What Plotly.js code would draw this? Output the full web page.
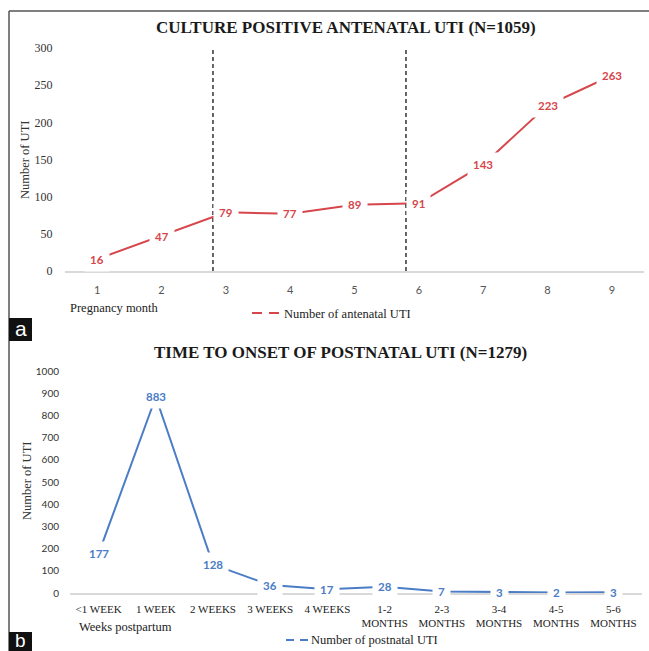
<!DOCTYPE html>
<html><head><meta charset="utf-8">
<script src="https://cdn.plot.ly/plotly-3.0.1.min.js"></script>
<style>html,body{margin:0;padding:0;background:#fff}#chart{width:649px;height:651px}</style>
</head><body><div id="chart"></div>
<script>
// ---- data ----
const antenatalMonths = [1, 2, 3, 4, 5, 6, 7, 8, 9];
const antenatalCounts = [16, 47, 79, 77, 89, 91, 143, 223, 263];
const trimesterBoundaries = [2.8, 5.8];
const postnatalPeriods = ['&lt;1 WEEK', '1 WEEK', '2 WEEKS', '3 WEEKS', '4 WEEKS',
  '1-2<br>MONTHS', '2-3<br>MONTHS', '3-4<br>MONTHS', '4-5<br>MONTHS', '5-6<br>MONTHS'];
const postnatalCounts = [177, 883, 128, 36, 17, 28, 7, 3, 2, 3];

const titleA = 'CULTURE POSITIVE ANTENATAL UTI (N=1059)';
const titleB = 'TIME TO ONSET OF POSTNATAL UTI (N=1279)';
const legendA = 'Number of antenatal UTI';
const legendB = 'Number of postnatal UTI';

// ---- styling ----
const W = 649, H = 651;
const px = x => x / W;
const py = y => 1 - y / H;
const RED = '#d6464b';
const BLUE = '#4a7dc6';
const SERIF = '"Liberation Serif", "Times New Roman", serif';
const SANS = 'Lato, "Open Sans", sans-serif';

const traces = [
  { x: antenatalMonths, y: antenatalCounts, xaxis: 'x', yaxis: 'y', type: 'scatter', mode: 'lines',
    line: { color: RED, width: 2 }, hoverinfo: 'skip', showlegend: false },
  { x: postnatalPeriods, y: postnatalCounts, xaxis: 'x2', yaxis: 'y2', type: 'scatter', mode: 'lines',
    line: { color: BLUE, width: 2 }, hoverinfo: 'skip', showlegend: false }
];

const annotations = [];
antenatalMonths.forEach((m, i) => annotations.push({
  x: m, y: antenatalCounts[i], xref: 'x', yref: 'y', text: String(antenatalCounts[i]),
  showarrow: false, bgcolor: '#ffffff', borderpad: 5,
  font: { family: SANS, size: 11.5, color: RED, weight: 'bold' }
}));
postnatalPeriods.forEach((p, i) => annotations.push({
  x: p, y: postnatalCounts[i], xref: 'x2', yref: 'y2', text: String(postnatalCounts[i]),
  showarrow: false, bgcolor: '#ffffff', borderpad: 5,
  font: { family: SANS, size: 11.5, color: BLUE, weight: 'bold' }
}));
const txt = (text, x, y, font, extra) => Object.assign({
  text, x: px(x), y: py(y), xref: 'paper', yref: 'paper', showarrow: false, font,
  xanchor: 'center', yanchor: 'middle'
}, extra || {});
annotations.push(
  txt(titleA, 346, 28, { family: SERIF, size: 17, color: '#1a1a1a', weight: 'bold' }),
  txt(titleB, 340, 352, { family: SERIF, size: 17, color: '#1a1a1a', weight: 'bold' }),
  txt('Number of UTI', 25, 160, { family: SERIF, size: 12.5, color: '#333' }, { textangle: -90 }),
  txt('Number of UTI', 27, 481, { family: SERIF, size: 12.5, color: '#333' }, { textangle: -90 }),
  txt('Pregnancy month', 68, 308, { family: SERIF, size: 12.5, color: '#222' }, { xanchor: 'left' }),
  txt('Weeks postpartum', 77, 627, { family: SERIF, size: 12.5, color: '#222' }, { xanchor: 'left' }),
  txt(legendA, 282, 314, { family: SERIF, size: 12.5, color: '#222' }, { xanchor: 'left' }),
  txt(legendB, 309, 640, { family: SERIF, size: 12.5, color: '#222' }, { xanchor: 'left' }),
  txt('a', 20.5, 328, { family: '"Liberation Sans", Arial, sans-serif', size: 21, color: '#fff' }),
  txt('b', 20.5, 640, { family: '"Liberation Sans", Arial, sans-serif', size: 19, color: '#fff' })
);

const shapes = [
  // frame
  { type: 'line', xref: 'paper', yref: 'paper', x0: px(9), x1: px(649), y0: py(11), y1: py(11), line: { color: '#555', width: 1.5 } },
  { type: 'line', xref: 'paper', yref: 'paper', x0: px(9), x1: px(9), y0: py(11), y1: py(651), line: { color: '#555', width: 1.5 } },
  // panel label boxes
  { type: 'rect', xref: 'paper', yref: 'paper', x0: px(9), x1: px(32), y0: py(318), y1: py(341), fillcolor: '#111', line: { width: 0 } },
  { type: 'rect', xref: 'paper', yref: 'paper', x0: px(9), x1: px(32), y0: py(632), y1: py(651), fillcolor: '#111', line: { width: 0 } },
  // legend samples
  { type: 'line', xref: 'paper', yref: 'paper', x0: px(252), x1: px(281), y0: py(313), y1: py(313), line: { color: RED, width: 2, dash: '10px,7px' } },
  { type: 'line', xref: 'paper', yref: 'paper', x0: px(286), x1: px(309), y0: py(640), y1: py(640), line: { color: BLUE, width: 2, dash: '8px,6px' } }
];
trimesterBoundaries.forEach(b => shapes.push({
  type: 'line', xref: 'x', yref: 'y', x0: b, x1: b, y0: 0, y1: 302,
  line: { color: '#333', width: 1.5, dash: '4px,3px' }, layer: 'above'
}));

const layout = {
  width: W, height: H, margin: { l: 0, r: 0, t: 0, b: 0 },
  paper_bgcolor: '#fff', plot_bgcolor: '#fff', showlegend: false,
  xaxis: { domain: [px(65), px(644)], range: [0.5, 9.5], anchor: 'y', tickvals: antenatalMonths,
    showgrid: false, zeroline: false, showline: true, linecolor: '#d9d9d9', linewidth: 1.5,
    ticks: 'outside', ticklen: 8, tickcolor: 'rgba(0,0,0,0)',
    tickfont: { family: SANS, size: 11, color: '#555' } },
  yaxis: { domain: [py(271), py(48)], range: [0, 300], dtick: 50, anchor: 'x',
    showgrid: false, zeroline: false, showline: false,
    ticks: 'outside', ticklen: 9, tickcolor: 'rgba(0,0,0,0)',
    tickfont: { family: SERIF, size: 12, color: '#333' } },
  xaxis2: { domain: [px(70), px(642)], type: 'category', range: [-0.5, 9.5], anchor: 'y2',
    showgrid: false, zeroline: false, showline: true, linecolor: '#d9d9d9', linewidth: 1.5,
    ticks: 'outside', ticklen: 5, tickcolor: 'rgba(0,0,0,0)', tickangle: 0,
    tickfont: { family: SERIF, size: 11, color: '#222' } },
  yaxis2: { domain: [py(593), py(371)], range: [0, 1000], dtick: 100, anchor: 'x2',
    showgrid: false, zeroline: false, showline: false,
    ticks: 'outside', ticklen: 8, tickcolor: 'rgba(0,0,0,0)',
    tickfont: { family: SANS, size: 10, color: '#333' } },
  annotations, shapes
};

Plotly.newPlot('chart', traces, layout, { staticPlot: true, displayModeBar: false });
</script></body></html>
